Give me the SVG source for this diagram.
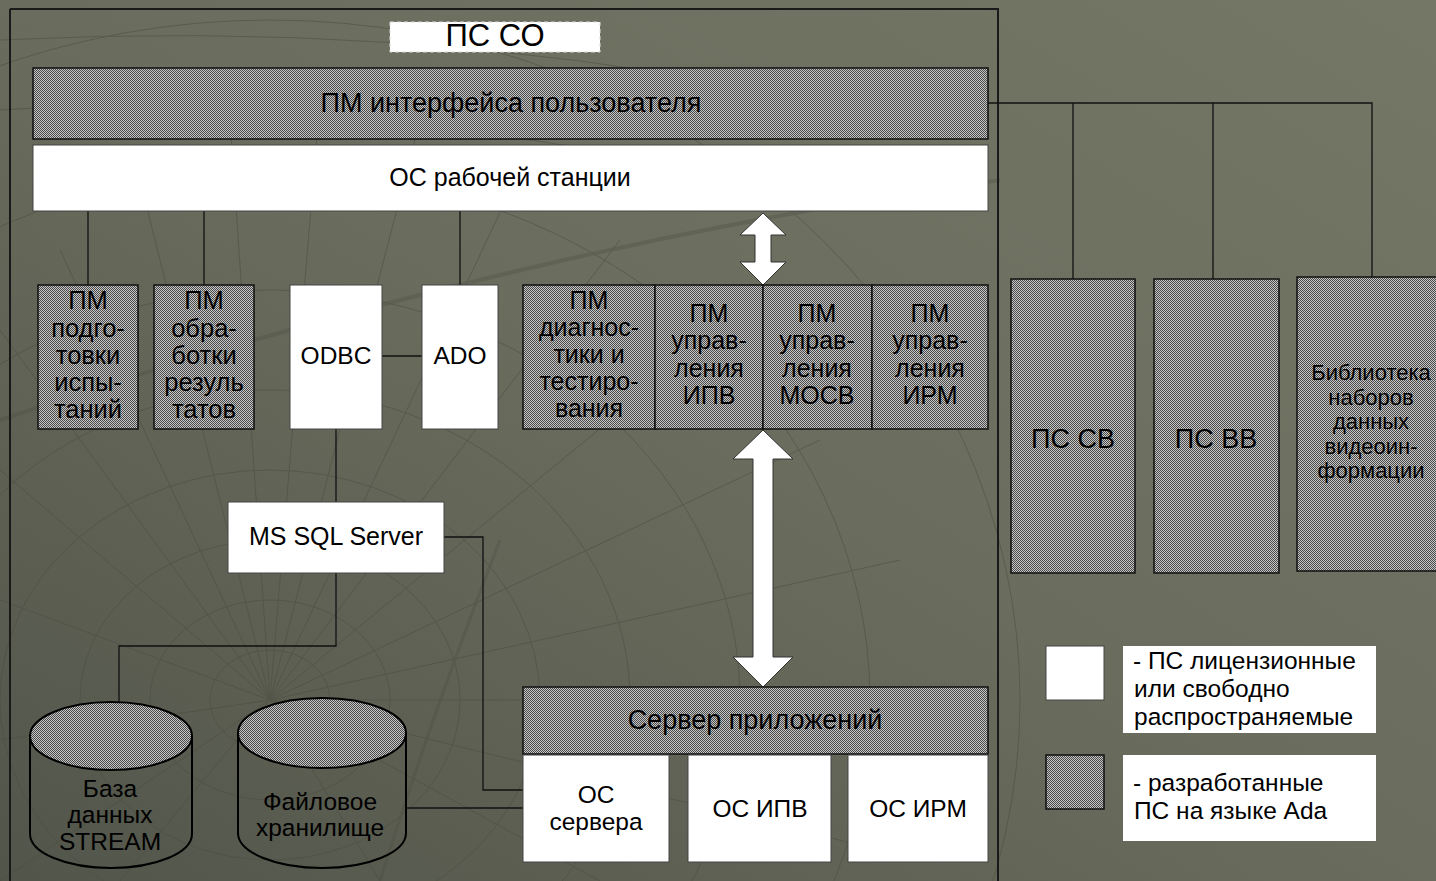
<svg xmlns="http://www.w3.org/2000/svg" width="1436" height="881" viewBox="0 0 1436 881">
<style>
.t{font-family:"Liberation Sans",Arial,sans-serif;fill:#000;text-anchor:middle}
.tl{font-family:"Liberation Sans",Arial,sans-serif;fill:#000}
.pat{fill:url(#dither);stroke:#111;stroke-width:1.5}
.wht{fill:#fff;stroke:#444;stroke-width:1}
.ln{fill:none;stroke:#111;stroke-width:1.3}
.frame{fill:none;stroke:#1a1a1a;stroke-width:2}
.grid{fill:none;stroke:#4c4e42;stroke-width:1;opacity:0.55}
.arrow{fill:#fff;stroke:#333;stroke-width:1}
</style>
<defs>
<pattern id="dither" width="2" height="2" patternUnits="userSpaceOnUse">
<rect width="2" height="2" fill="#c6c6c6"/>
<rect x="0" y="0" width="1" height="1" fill="#4a4a4a"/>
<rect x="1" y="1" width="1" height="1" fill="#4a4a4a"/>
</pattern>
<linearGradient id="bg" x1="1" y1="0" x2="0" y2="1">
<stop offset="0" stop-color="#747666"/>
<stop offset="0.5" stop-color="#6a6c5d"/>
<stop offset="1" stop-color="#52554a"/>
</linearGradient>
</defs>
<rect width="1436" height="881" fill="url(#bg)"/>
<g id="background-grid" class="grid">
<ellipse cx="270" cy="700" rx="60" ry="50"/>
<ellipse cx="270" cy="700" rx="120" ry="100"/>
<ellipse cx="270" cy="700" rx="190" ry="160"/>
<ellipse cx="270" cy="700" rx="270" ry="230"/>
<ellipse cx="270" cy="700" rx="360" ry="310"/>
<ellipse cx="270" cy="700" rx="470" ry="410"/>
<ellipse cx="270" cy="700" rx="600" ry="530"/>
<ellipse cx="270" cy="700" rx="750" ry="680"/>
<path d="M270,700 L0,330 M270,700 L60,250 M270,700 L140,180 M270,700 L230,120 M270,700 L320,100 M270,700 L420,120 M270,700 L520,170 M270,700 L620,240 M270,700 L720,330 M270,700 L820,440 M270,700 L900,560 M270,700 L950,700 M270,700 L920,860 M270,700 L0,470 M270,700 L0,600 M270,700 L0,740 M270,700 L0,881 M270,700 L120,881 M270,700 L380,881 M270,700 L600,881"/>
<path d="M0,420 Q500,250 1000,180" stroke-width="4" opacity="0.6"/>
<path d="M500,540 Q430,720 380,881" stroke-width="3" opacity="0.6"/>
<path d="M0,110 Q300,90 700,170" />
<path d="M0,40 Q400,20 760,90" />
</g>
<g id="frame">
<line class="frame" x1="10" y1="9" x2="998" y2="9"/>
<line class="frame" x1="10" y1="9" x2="10" y2="881"/>
<line class="frame" x1="998" y1="8" x2="998" y2="881"/>
</g>
<g id="connectors">
<line class="ln" x1="88" y1="211" x2="88" y2="285"/>
<line class="ln" x1="204" y1="211" x2="204" y2="285"/>
<line class="ln" x1="460" y1="211" x2="460" y2="285"/>
<line class="ln" x1="382" y1="356" x2="422" y2="356"/>
<line class="ln" x1="336" y1="429" x2="336" y2="502"/>
<polyline class="ln" points="336,573 336,646 119,646 119,702"/>
<polyline class="ln" points="444,537 483,537 483,790 523,790"/>
<line class="ln" x1="406" y1="808" x2="523" y2="808"/>
<polyline class="ln" points="988,103 1372,103 1372,277"/>
<line class="ln" x1="1073" y1="103" x2="1073" y2="279"/>
<line class="ln" x1="1213" y1="103" x2="1213" y2="279"/>
<polygon class="arrow" points="763,213 786,235 771,235 771,262 786,262 763,285 740,262 755,262 755,235 740,235"/>
<polygon class="arrow" points="763,430 793,459 773,459 773,657 793,657 763,687 733,657 753,657 753,459 733,459"/>
</g>
<g id="ps-so-title">
<rect x="390" y="22" width="210" height="30" fill="#fff" stroke="#ddd" stroke-dasharray="4 3"/>
<text class="t" x="495" y="46" font-size="31">ПС СО</text>
</g>
<g id="pm-ui">
<rect class="pat" x="33" y="68" width="955" height="71"/>
<text class="t" x="511" y="112" font-size="27">ПМ интерфейса пользователя</text>
</g>
<g id="os-ws">
<rect class="wht" x="33" y="145" width="955" height="66"/>
<text class="t" x="510" y="186" font-size="25">ОС рабочей станции</text>
</g>
<g id="pm-prep">
<rect class="pat" x="38" y="285" width="100" height="144"/>
<text class="t" font-size="25.5"><tspan x="88" y="309">ПМ</tspan><tspan x="88" y="337">подго-</tspan><tspan x="88" y="364">товки</tspan><tspan x="88" y="391">испы-</tspan><tspan x="88" y="418">таний</tspan></text>
</g>
<g id="pm-proc">
<rect class="pat" x="154" y="285" width="100" height="144"/>
<text class="t" font-size="25.5"><tspan x="204" y="309">ПМ</tspan><tspan x="204" y="337">обра-</tspan><tspan x="204" y="364">ботки</tspan><tspan x="204" y="391">резуль</tspan><tspan x="204" y="418">татов</tspan></text>
</g>
<g id="odbc">
<rect class="wht" x="290" y="285" width="92" height="144"/>
<text class="t" x="336" y="364" font-size="24.5">ODBC</text>
</g>
<g id="ado">
<rect class="wht" x="422" y="285" width="76" height="144"/>
<text class="t" x="460" y="364" font-size="24.5">ADO</text>
</g>
<g id="pm-diag">
<rect class="pat" x="523" y="285" width="132" height="144"/>
<text class="t" font-size="25"><tspan x="589" y="309">ПМ</tspan><tspan x="589" y="336">диагнос-</tspan><tspan x="589" y="363">тики и</tspan><tspan x="589" y="390">тестиро-</tspan><tspan x="589" y="417">вания</tspan></text>
</g>
<g id="pm-ipv">
<rect class="pat" x="655" y="285" width="108" height="144"/>
<text class="t" font-size="25"><tspan x="709" y="322">ПМ</tspan><tspan x="709" y="349">управ-</tspan><tspan x="709" y="377">ления</tspan><tspan x="709" y="404">ИПВ</tspan></text>
</g>
<g id="pm-mosv">
<rect class="pat" x="763" y="285" width="109" height="144"/>
<text class="t" font-size="25"><tspan x="817" y="322">ПМ</tspan><tspan x="817" y="349">управ-</tspan><tspan x="817" y="377">ления</tspan><tspan x="817" y="404">МОСВ</tspan></text>
</g>
<g id="pm-irm">
<rect class="pat" x="872" y="285" width="116" height="144"/>
<text class="t" font-size="25"><tspan x="930" y="322">ПМ</tspan><tspan x="930" y="349">управ-</tspan><tspan x="930" y="377">ления</tspan><tspan x="930" y="404">ИРМ</tspan></text>
</g>
<g id="ms-sql">
<rect class="wht" x="228" y="502" width="216" height="71"/>
<text class="t" x="336" y="545" font-size="25">MS SQL Server</text>
</g>
<g id="db-stream">
<path d="M30,736 L30,834 A81,34 0 0 0 192,834 L192,736" fill="none" stroke="#000" stroke-width="2"/>
<ellipse cx="111" cy="736" rx="81" ry="34" fill="url(#dither)" stroke="#000" stroke-width="2"/>
<text class="t" font-size="24.5"><tspan x="110" y="797">База</tspan><tspan x="110" y="823">данных</tspan><tspan x="110" y="850">STREAM</tspan></text>
</g>
<g id="file-storage">
<path d="M238,733 L238,833 A84,35 0 0 0 406,833 L406,733" fill="none" stroke="#000" stroke-width="2"/>
<ellipse cx="322" cy="733" rx="84" ry="35" fill="url(#dither)" stroke="#000" stroke-width="2"/>
<text class="t" font-size="24.5"><tspan x="320" y="810">Файловое</tspan><tspan x="320" y="836">хранилище</tspan></text>
</g>
<g id="app-server">
<rect class="pat" x="523" y="687" width="465" height="67"/>
<text class="t" x="755" y="729" font-size="27">Сервер приложений</text>
</g>
<g id="os-server">
<rect class="wht" x="523" y="755" width="146" height="107"/>
<text class="t" font-size="24.5"><tspan x="596" y="803">ОС</tspan><tspan x="596" y="830">сервера</tspan></text>
</g>
<g id="os-ipv">
<rect class="wht" x="688" y="755" width="143" height="107"/>
<text class="t" x="760" y="817" font-size="24.5">ОС ИПВ</text>
</g>
<g id="os-irm">
<rect class="wht" x="848" y="755" width="140" height="107"/>
<text class="t" x="918" y="817" font-size="24.5">ОС ИРМ</text>
</g>
<g id="ps-sv">
<rect class="pat" x="1011" y="279" width="124" height="294"/>
<text class="t" x="1073" y="448" font-size="27">ПС СВ</text>
</g>
<g id="ps-vv">
<rect class="pat" x="1154" y="279" width="125" height="294"/>
<text class="t" x="1216" y="448" font-size="27">ПС ВВ</text>
</g>
<g id="video-lib">
<rect class="pat" x="1297" y="277" width="150" height="294"/>
<text class="t" font-size="22"><tspan x="1371" y="380">Библиотека</tspan><tspan x="1371" y="405">наборов</tspan><tspan x="1371" y="429">данных</tspan><tspan x="1371" y="454">видеоин-</tspan><tspan x="1371" y="478">формации</tspan></text>
</g>
<g id="legend-licensed">
<rect class="wht" x="1046" y="646" width="58" height="54" stroke="#222"/>
<rect x="1123" y="646" width="253" height="87" fill="#fff"/>
<text class="tl" font-size="24.5"><tspan x="1133" y="669">- ПС лицензионные</tspan><tspan x="1134" y="697">или свободно</tspan><tspan x="1134" y="725">распространяемые</tspan></text>
</g>
<g id="legend-ada">
<rect class="pat" x="1046" y="755" width="58" height="54"/>
<rect x="1123" y="755" width="253" height="86" fill="#fff"/>
<text class="tl" font-size="24.5"><tspan x="1133" y="791">- разработанные</tspan><tspan x="1134" y="819">ПС на языке Ada</tspan></text>
</g>
</svg>
